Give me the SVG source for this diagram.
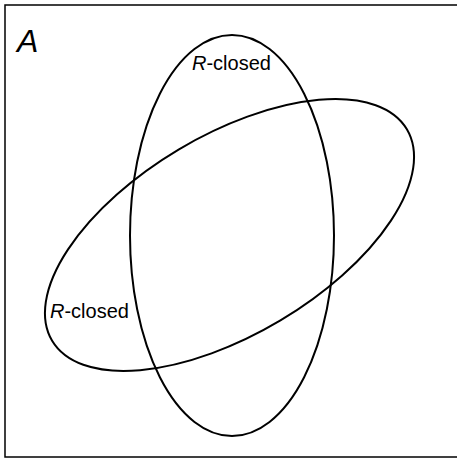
<svg xmlns="http://www.w3.org/2000/svg" width="457" height="459" viewBox="0 0 457 459">
<style>
.sh{fill:none;stroke:#000;stroke-width:2}
text{font-family:"Liberation Sans","DejaVu Sans",sans-serif;fill:#000}
.lb{font-size:20px}
</style>
<rect width="457" height="459" fill="#fff"/>
<g id="frame"><rect x="5" y="5" width="460" height="452" fill="none" stroke="#000" stroke-width="1.5"/></g>
<text x="17" y="52" font-size="32" font-style="italic">A</text>
<g id="vertical"><ellipse class="sh" cx="232" cy="235.5" rx="102" ry="200.5"/>
<text class="lb" x="192" y="70"><tspan font-style="italic">R</tspan>-closed</text></g>
<g id="tilted"><ellipse class="sh" cx="229.5" cy="235" rx="206.5" ry="99.5" transform="rotate(-30.8 229.5 235)"/>
<text class="lb" x="50" y="318"><tspan font-style="italic">R</tspan>-closed</text></g>
</svg>
